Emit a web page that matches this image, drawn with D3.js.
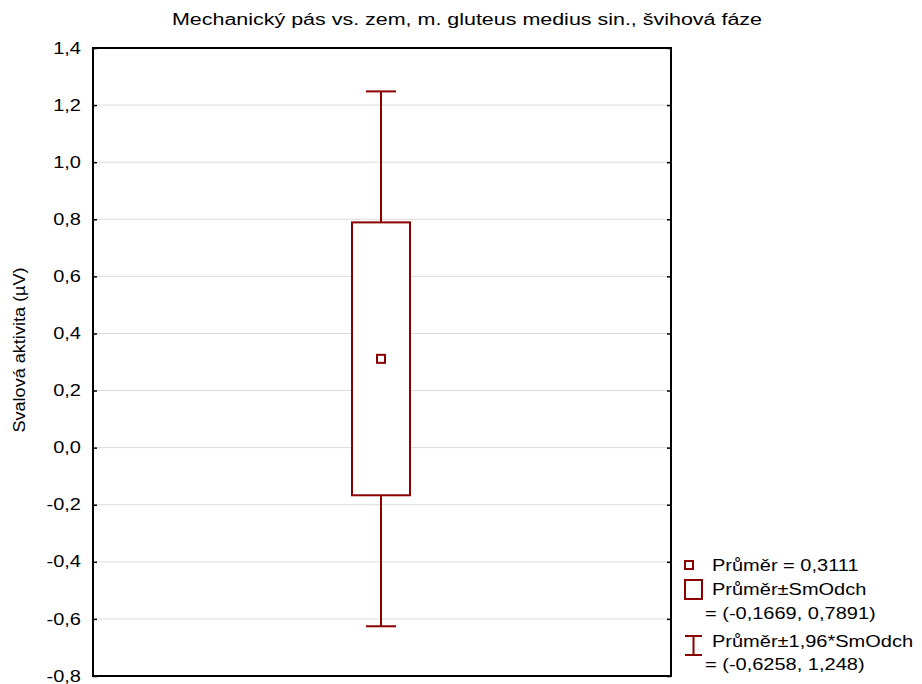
<!DOCTYPE html>
<html>
<head>
<meta charset="utf-8">
<script src="https://cdn.jsdelivr.net/npm/d3@7"></script>
<style>
body { margin: 0; background: #fff; }
text { font-family: "Liberation Sans", Arial, sans-serif; fill: #000; }
</style>
</head>
<body>
<div id="chart"></div>
<script>
var width = 922;
var height = 684;

// data
var groupName = ["Mechanický pás vs. zem"];
var meanValue = [0.3111];
var sdBox = [-0.1669, 0.7891];
var sdWhisker = [-0.6258, 1.248];
var yTicks = [-0.8, -0.6, -0.4, -0.2, 0.0, 0.2, 0.4, 0.6, 0.8, 1.0, 1.2, 1.4];
var legendLabels = ["Průměr = 0,3111", "Průměr±SmOdch", "= (-0,1669, 0,7891)", "Průměr±1,96*SmOdch", "= (-0,6258, 1,248)"];

var color = "#8b0000";
var plot = { left: 93, right: 671, top: 48, bottom: 676 };

var svg = d3.select("#chart").append("svg")
    .attr("width", width)
    .attr("height", height);

var y = d3.scaleLinear()
    .domain([-0.8, 1.4])
    .range([plot.bottom, plot.top]);

var x = d3.scaleBand()
    .domain(groupName)
    .range([plot.left, plot.right]);

// czech decimal comma, plain hyphen for minus
var fmt = function(d) { return d.toFixed(1).replace(".", ","); };

// grid lines
svg.append("g")
    .selectAll("line")
    .data(yTicks.slice(1, -1))
    .enter()
    .append("line")
    .attr("x1", plot.left)
    .attr("x2", plot.right)
    .attr("y1", function(d) { return y(d); })
    .attr("y2", function(d) { return y(d); })
    .attr("stroke", "#dcdcdc")
    .attr("stroke-width", 1);

// axes with inward ticks
var leftAxis = svg.append("g")
    .attr("transform", "translate(" + plot.left + ",0)")
    .call(d3.axisLeft(y).tickValues(yTicks).tickFormat(fmt).tickSizeInner(-4).tickSizeOuter(0));

var rightAxis = svg.append("g")
    .attr("transform", "translate(" + plot.right + ",0)")
    .call(d3.axisRight(y).tickValues(yTicks).tickFormat("").tickSizeInner(-4).tickSizeOuter(0));

svg.selectAll(".domain").remove();
svg.selectAll(".tick line").attr("stroke", "#000").attr("stroke-width", 1.5);

// the original font is drawn wider, so stretch the labels a bit
var textStretch = 1.25;
leftAxis.selectAll("text")
    .attr("x", -12 / textStretch)
    .attr("transform", "scale(" + textStretch + ",1)")
    .attr("font-size", "16px")
    .style("font-family", "'Liberation Sans', Arial, sans-serif");

// frame
svg.append("rect")
    .attr("x", plot.left)
    .attr("y", plot.top)
    .attr("width", plot.right - plot.left)
    .attr("height", plot.bottom - plot.top)
    .attr("fill", "none")
    .attr("stroke", "#000")
    .attr("stroke-width", 2);

// box and whiskers
var cx = x(groupName[0]) + x.bandwidth() / 2 - 1;
var boxW = 58;
var capW = 30;

var g = svg.append("g")
    .attr("stroke", color)
    .attr("stroke-width", 2)
    .attr("fill", "none");

g.append("line")
    .attr("x1", cx).attr("x2", cx)
    .attr("y1", y(sdWhisker[1])).attr("y2", y(sdBox[1]));

g.append("line")
    .attr("x1", cx).attr("x2", cx)
    .attr("y1", y(sdBox[0])).attr("y2", y(sdWhisker[0]));

g.selectAll(".cap")
    .data(sdWhisker)
    .enter()
    .append("line")
    .attr("class", "cap")
    .attr("x1", cx - capW / 2).attr("x2", cx + capW / 2)
    .attr("y1", function(d) { return y(d); })
    .attr("y2", function(d) { return y(d); });

g.append("rect")
    .attr("x", cx - boxW / 2)
    .attr("y", y(sdBox[1]))
    .attr("width", boxW)
    .attr("height", y(sdBox[0]) - y(sdBox[1]))
    .attr("fill", "#fff");

g.append("rect")
    .attr("x", cx - 4)
    .attr("y", y(meanValue[0]) - 4)
    .attr("width", 8)
    .attr("height", 8)
    .attr("stroke-width", 2);

// title
svg.append("text")
    .attr("x", 172)
    .attr("y", 25)
    .attr("font-size", "16px")
    .attr("textLength", 590)
    .attr("lengthAdjust", "spacingAndGlyphs")
    .text("Mechanický pás vs. zem, m. gluteus medius sin., švihová fáze");

// y axis label
svg.append("text")
    .attr("transform", "translate(25,350) rotate(-90) scale(1.13,1)")
    .attr("text-anchor", "middle")
    .attr("font-size", "16px")
    .text("Svalová aktivita (µV)");

// legend
var lg = svg.append("g");

lg.append("rect")
    .attr("x", 685).attr("y", 561)
    .attr("width", 8).attr("height", 8)
    .attr("fill", "none").attr("stroke", color).attr("stroke-width", 2);

lg.append("rect")
    .attr("x", 685).attr("y", 580)
    .attr("width", 17).attr("height", 19)
    .attr("fill", "none").attr("stroke", color).attr("stroke-width", 2);

lg.append("path")
    .attr("d", "M685,636 H702 M693.5,636 V655 M685,655 H702")
    .attr("fill", "none").attr("stroke", color).attr("stroke-width", 2);

var legendPos = [[712, 571], [712, 595], [705, 619], [712, 647], [705, 670]];

lg.selectAll(".lt")
    .data(legendLabels)
    .enter()
    .append("text")
    .attr("class", "lt")
    .attr("transform", function(d, i) {
        return "translate(" + legendPos[i][0] + "," + legendPos[i][1] + ") scale(" + textStretch + ",1)";
    })
    .attr("font-size", "16px")
    .text(function(d) { return d; });
</script>
</body>
</html>
